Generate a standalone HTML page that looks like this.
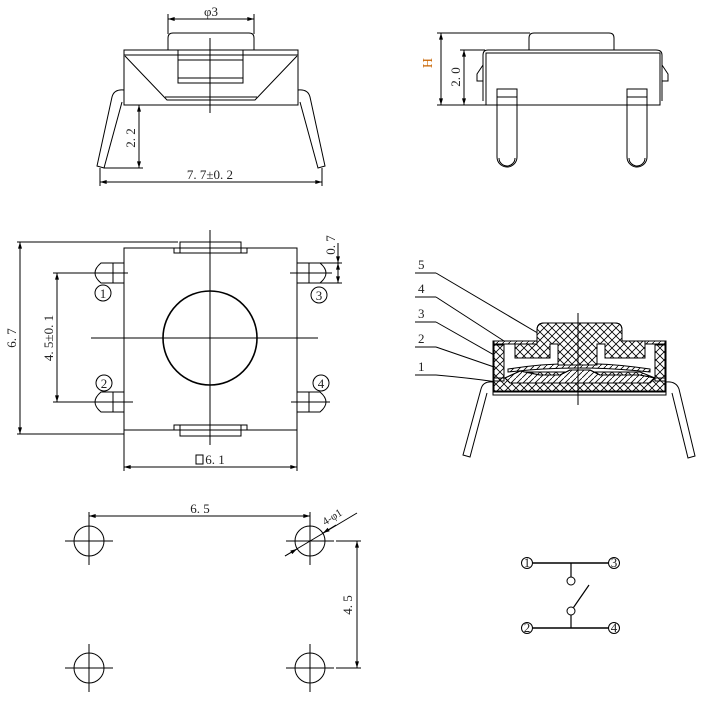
<!DOCTYPE html>
<html><head><meta charset="utf-8"><style>
html,body{margin:0;padding:0;background:#fff;}
svg{display:block;}
text{font-family:"Liberation Serif",serif;font-size:13px;fill:#222;}
</style></head><body>
<svg width="701" height="712" viewBox="0 0 701 712" xmlns="http://www.w3.org/2000/svg">
<defs>
<marker id="a" viewBox="0 0 10 6" refX="10" refY="3" markerWidth="8" markerHeight="4" orient="auto-start-reverse"><path d="M0,0 L10,3 L0,6z" fill="#000"/></marker>
<pattern id="x" width="8" height="8" patternUnits="userSpaceOnUse"><path d="M0,0 L8,8 M8,0 L0,8" stroke="#000" stroke-width="0.8"/></pattern>
<pattern id="d" width="6" height="6" patternUnits="userSpaceOnUse"><path d="M0,6 L6,0" stroke="#000" stroke-width="0.8"/></pattern>
</defs>
<g fill="none" stroke="#000" stroke-width="1">
<!-- TOP LEFT VIEW -->
<line x1="168" y1="14" x2="168" y2="34"/><line x1="254" y1="14" x2="254" y2="34"/>
<line x1="168" y1="19" x2="254" y2="19" marker-start="url(#a)" marker-end="url(#a)"/>
<path d="M168,50 L168,38 Q168,33 173,33 L249,33 Q254,33 254,38 L254,50"/>
<rect x="124" y="50" width="174" height="55"/>
<line x1="124" y1="55" x2="298" y2="55"/>
<rect x="178" y="50" width="65" height="33"/>
<line x1="178" y1="60" x2="243" y2="60"/><line x1="178" y1="78" x2="243" y2="78"/>
<path d="M125,56 L167,100 L255,100 L297,56"/><line x1="165" y1="97" x2="257" y2="97"/>
<line x1="210" y1="38" x2="210" y2="113"/>
<path d="M124,90 Q114,89 112,97 L97,166 L104,168 L122,102"/>
<path d="M298,90 Q308,89 310,97 L325,166 L318,168 L300,102"/>
<line x1="104" y1="168" x2="143" y2="168"/>
<line x1="139" y1="105" x2="139" y2="168" marker-start="url(#a)" marker-end="url(#a)"/>
<line x1="100" y1="168" x2="100" y2="186"/><line x1="322" y1="168" x2="322" y2="186"/>
<line x1="100" y1="182" x2="322" y2="182" marker-start="url(#a)" marker-end="url(#a)"/>
<!-- TOP RIGHT VIEW -->
<line x1="437" y1="33" x2="530" y2="33"/><line x1="437" y1="105" x2="500" y2="105"/>
<line x1="441" y1="33" x2="441" y2="105" marker-start="url(#a)" marker-end="url(#a)"/>
<line x1="460" y1="50" x2="485" y2="50"/>
<line x1="464" y1="50" x2="464" y2="105" marker-start="url(#a)" marker-end="url(#a)"/>
<path d="M529,50 L529,38 Q529,33 534,33 L609,33 Q614,33 614,38 L614,50"/>
<path d="M483,101 L483,55 Q483,50 488,50 L656,50 Q662,50 662,55 L662,101"/>
<rect x="486" y="53" width="174" height="52"/>
<path d="M483,65 L477,74 L477,81 L483,81"/><path d="M662,65 L668,74 L668,81 L662,81"/>
<path d="M497,89 L497,157 A10,10 0 0 0 517,157 L517,89 Z"/><line x1="497" y1="97" x2="517" y2="97"/>
<path d="M499,158 A8,8 0 0 0 515,158"/>
<path d="M627,89 L627,157 A10,10 0 0 0 647,157 L647,89 Z"/><line x1="627" y1="97" x2="647" y2="97"/>
<path d="M629,158 A8,8 0 0 0 645,158"/>
<!-- MIDDLE LEFT VIEW -->
<rect x="124" y="248" width="173" height="182"/>
<rect x="180" y="242" width="61" height="11"/><path d="M180,248 L174,248 L174,253 L180,253 M241,248 L247,248 L247,253 L241,253"/>
<rect x="180" y="425" width="61" height="11"/><path d="M180,430 L174,430 L174,425 L180,425 M241,430 L247,430 L247,425 L241,425"/>
<line x1="210" y1="230" x2="210" y2="445"/><line x1="91" y1="338" x2="318" y2="338"/>
<circle cx="210" cy="338" r="47" stroke-width="1.6"/>
<line x1="17" y1="242" x2="178" y2="242"/><line x1="17" y1="434" x2="124" y2="434"/>
<line x1="20" y1="242" x2="20" y2="434" marker-start="url(#a)" marker-end="url(#a)"/>
<line x1="53" y1="273" x2="128" y2="273"/><line x1="53" y1="402" x2="133" y2="402"/>
<line x1="57" y1="273" x2="57" y2="402" marker-start="url(#a)" marker-end="url(#a)"/>
<path d="M124,263 L101,263 Q95,268 95,273 Q95,278 101,283 L124,283"/><line x1="113" y1="263" x2="113" y2="283"/>
<path d="M124,392 L101,392 Q95,397 95,402 Q95,407 101,412 L124,412"/><line x1="113" y1="392" x2="113" y2="412"/>
<path d="M297,263 L320,263 Q326,268 326,273 Q326,278 320,283 L297,283"/><line x1="309" y1="263" x2="309" y2="283"/>
<path d="M297,392 L320,392 Q326,397 326,402 Q326,407 320,412 L297,412"/><line x1="309" y1="392" x2="309" y2="412"/>
<line x1="290" y1="273" x2="332" y2="273"/><line x1="291" y1="402" x2="330" y2="402"/>
<line x1="320" y1="263" x2="342" y2="263"/><line x1="320" y1="283" x2="342" y2="283"/>
<line x1="338" y1="243" x2="338" y2="263" marker-end="url(#a)"/><line x1="338" y1="283" x2="338" y2="263" marker-start="url(#a)" marker-end="url(#a)"/>
<circle cx="103" cy="293" r="8"/><circle cx="104" cy="383" r="8"/><circle cx="319" cy="295" r="8"/><circle cx="321" cy="383" r="8"/>
<line x1="124" y1="430" x2="124" y2="471"/><line x1="297" y1="430" x2="297" y2="471"/>
<line x1="124" y1="467" x2="297" y2="467" marker-start="url(#a)" marker-end="url(#a)"/>
<rect x="196" y="455" width="7" height="9"/>
<!-- CROSS SECTION -->
<line x1="415" y1="273" x2="436" y2="273"/><line x1="436" y1="273" x2="541" y2="335"/>
<line x1="415" y1="297" x2="436" y2="297"/><line x1="436" y1="297" x2="504" y2="341"/>
<line x1="415" y1="322" x2="436" y2="322"/><line x1="436" y1="322" x2="517" y2="368"/>
<line x1="415" y1="347" x2="436" y2="347"/><line x1="436" y1="347" x2="497" y2="368"/>
<line x1="415" y1="375" x2="436" y2="375"/><path d="M436,375 Q470,378 497,382"/>
<path d="M493,382 Q483,381 481,389 L463,455 L470,457 L487,393" fill="#fff"/>
<path d="M666,382 Q676,381 679,389 L695,456 L688,458 L672,393" fill="#fff"/>
<rect x="493" y="341" width="173" height="54" fill="#fff"/>
<rect x="494" y="345" width="10" height="36" fill="url(#x)"/>
<rect x="655" y="345" width="10" height="36" fill="url(#x)"/>
<rect x="494" y="341" width="43" height="3" fill="url(#d)"/><rect x="622" y="341" width="43" height="3" fill="url(#d)"/>
<path d="M494,392 L494,378 L510,378 L520,372 L640,372 L655,378 L665,378 L665,392 Z" fill="url(#x)"/>
<path d="M505,378 L520,371 L540,375 L560,375 L570,370 L590,370 L600,375 L640,375 L655,378 L650,383 L510,383 Z" fill="#fff"/>
<path d="M505,378 L520,371 L540,375 L560,375 L570,370 L590,370 L600,375 L640,375 L655,378 L650,383 L510,383 Z" fill="url(#d)"/>
<line x1="494" y1="391" x2="665" y2="391"/>
<path d="M508,369 Q578,358 650,369 L650,372 Q578,364 508,372 Z" fill="url(#d)"/>
<path d="M537,341 L537,330 Q537,323 544,323 L615,323 Q622,323 622,330 L622,341 L645,341 L645,358 L605,358 L605,344 L597,344 L597,365 L558,365 L558,344 L550,344 L550,358 L515,358 L515,344 L537,344 Z" fill="#fff"/>
<path d="M537,341 L537,330 Q537,323 544,323 L615,323 Q622,323 622,330 L622,341 L645,341 L645,358 L605,358 L605,344 L597,344 L597,365 L558,365 L558,344 L550,344 L550,358 L515,358 L515,344 L537,344 Z" fill="url(#x)"/>
<line x1="578" y1="313" x2="578" y2="405"/>
<!-- FOOTPRINT -->
<g>
<circle cx="89" cy="541" r="15"/><line x1="65" y1="541" x2="113" y2="541"/><line x1="89" y1="517" x2="89" y2="565"/>
<circle cx="310" cy="541" r="15"/><line x1="286" y1="541" x2="334" y2="541"/><line x1="310" y1="512" x2="310" y2="565"/>
<circle cx="89" cy="668" r="15"/><line x1="65" y1="668" x2="113" y2="668"/><line x1="89" y1="644" x2="89" y2="692"/>
<circle cx="310" cy="668" r="15"/><line x1="286" y1="668" x2="334" y2="668"/><line x1="310" y1="644" x2="310" y2="692"/>
</g>
<line x1="89" y1="512" x2="89" y2="520"/>
<line x1="89" y1="516" x2="310" y2="516" marker-start="url(#a)" marker-end="url(#a)"/>
<line x1="336" y1="541" x2="361" y2="541"/><line x1="336" y1="668" x2="361" y2="668"/>
<line x1="357" y1="541" x2="357" y2="668" marker-start="url(#a)" marker-end="url(#a)"/>
<line x1="285" y1="556" x2="357" y2="513"/>
<line x1="285" y1="556" x2="297" y2="549" marker-end="url(#a)"/><line x1="336" y1="525" x2="323" y2="533" marker-end="url(#a)"/>
<!-- SCHEMATIC -->
<circle cx="527" cy="563" r="5.5"/><circle cx="614" cy="563" r="5.5"/>
<circle cx="527" cy="628" r="5.5"/><circle cx="614" cy="628" r="5.5"/>
<line x1="533" y1="563" x2="608" y2="563" stroke-width="1.5"/>
<line x1="533" y1="628" x2="608" y2="628" stroke-width="1.5"/>
<line x1="571" y1="563" x2="571" y2="577" stroke-width="1.2"/><circle cx="571" cy="581" r="4"/>
<circle cx="571" cy="611" r="4"/><line x1="571" y1="615" x2="571" y2="628" stroke-width="1.2"/>
<line x1="573.5" y1="607.5" x2="589" y2="585" stroke-width="1.2"/>
</g>
<!-- TEXT -->
<text x="211" y="16" text-anchor="middle">φ3</text>
<text transform="translate(135,138) rotate(-90)" text-anchor="middle">2. 2</text>
<text x="210" y="179" text-anchor="middle">7. 7±0. 2</text>
<text transform="translate(432,63) rotate(-90)" text-anchor="middle" style="fill:#c86400;font-size:14px">H</text>
<text transform="translate(460,77) rotate(-90)" text-anchor="middle">2. 0</text>
<text transform="translate(16,338) rotate(-90)" text-anchor="middle">6. 7</text>
<text transform="translate(53,338) rotate(-90)" text-anchor="middle">4. 5±0. 1</text>
<text transform="translate(335,245) rotate(-90)" text-anchor="middle">0. 7</text>
<text x="215" y="464" text-anchor="middle">6. 1</text>
<g style="font-size:13px" text-anchor="middle">
<text x="103" y="298">1</text><text x="104" y="388">2</text><text x="319" y="300">3</text><text x="321" y="388">4</text>
</g>
<g style="font-size:16px">
<text x="418" y="269">5</text><text x="418" y="293">4</text><text x="418" y="318">3</text><text x="418" y="343">2</text><text x="418" y="371">1</text>
</g>
<text x="200" y="513" text-anchor="middle">6. 5</text>
<text transform="translate(352,605) rotate(-90)" text-anchor="middle">4. 5</text>
<text transform="translate(334,520) rotate(-32)" text-anchor="middle" style="font-size:11px">4-φ1</text>
<g style="font-size:10px" text-anchor="middle">
<text x="527" y="567">1</text><text x="614" y="567">3</text><text x="527" y="632">2</text><text x="614" y="632">4</text>
</g>
</svg>
</body></html>
